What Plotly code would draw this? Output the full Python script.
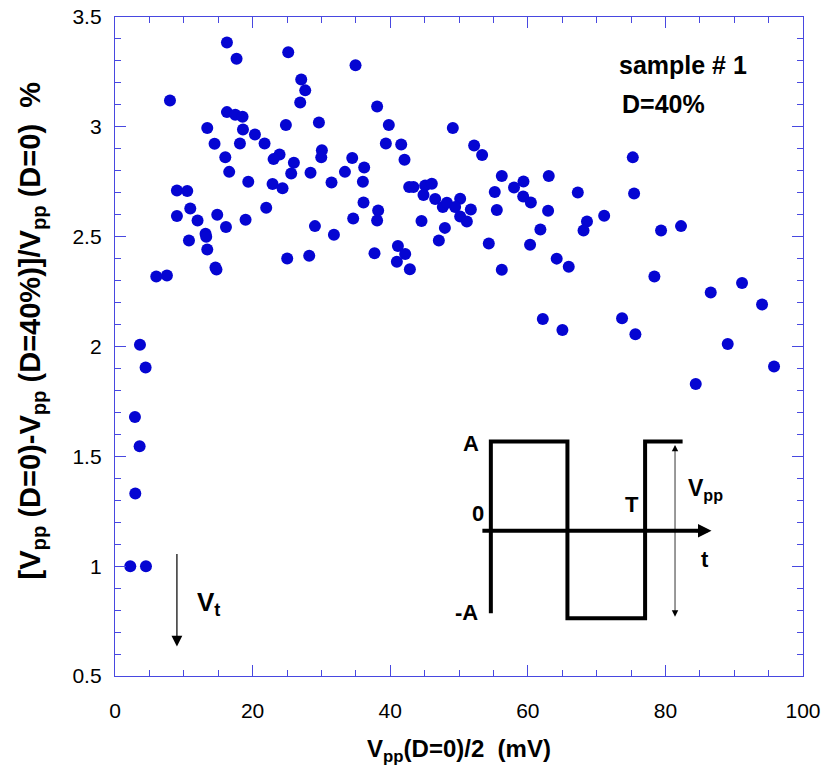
import plotly.graph_objects as go

# ---- data ----
x_vals = [
    16.27, 17.67, 7.99, 25.18, 34.96, 27.07, 27.65, 26.92, 16.27, 17.48, 18.54,
    13.41, 18.6, 20.34, 24.84, 29.64, 38.1, 39.8, 14.47, 18.16, 21.74, 39.37,
    41.6, 30.07, 29.98, 23.92, 23.05, 16.03, 26.0, 34.48, 42.08, 36.22, 16.6,
    25.61, 28.42, 33.42, 19.37, 22.9, 24.35, 31.47, 36.03, 9.0, 10.5, 42.76,
    43.38, 45.08, 46.05, 44.84, 46.54, 47.65, 48.24, 47.95, 47.07, 44.55,
    36.12, 38.25, 38.1, 34.62, 21.98, 10.94, 9.0, 12.0, 14.86, 18.98, 13.16,
    13.26, 16.13, 29.06, 31.82, 10.75, 13.41, 14.6, 14.75, 25.03, 28.23,
    37.72, 41.12, 42.18, 40.97, 42.86, 6.0, 7.55, 3.63,
    49.1, 52.2, 53.36, 75.26, 75.45, 56.22, 63.05, 59.37, 58.0, 55.2, 67.27,
    59.33, 60.44, 50.17, 51.72, 55.5, 62.95, 49.44, 50.17, 51.14, 68.6, 68.1,
    71.1, 61.83, 54.33, 60.33, 64.2, 65.95, 56.22, 79.37, 82.27, 78.4, 86.59,
    91.14, 94.05, 62.18, 65.03, 73.7, 75.64, 89.06, 95.79, 84.41,
    4.45, 2.9, 3.58, 2.95, 2.22, 4.5,
]
y_vals = [
    3.384, 3.31, 3.12, 3.34, 3.28, 3.215, 3.166, 3.111, 3.067, 3.055, 3.046,
    2.995, 2.988, 2.965, 3.008, 3.02, 3.093, 3.008, 2.923, 2.924, 2.924, 2.924,
    2.92, 2.893, 2.861, 2.874, 2.853, 2.862, 2.836, 2.858, 2.85, 2.815, 2.795,
    2.788, 2.791, 2.795, 2.75, 2.74, 2.72, 2.747, 2.75, 2.71, 2.708, 2.726,
    2.726, 2.733, 2.741, 2.69, 2.671, 2.635, 2.654, 2.54, 2.483, 2.571,
    2.656, 2.619, 2.574, 2.583, 2.632, 2.628, 2.594, 2.574, 2.6, 2.577, 2.513,
    2.5, 2.544, 2.548, 2.509, 2.483, 2.442, 2.36, 2.35, 2.401, 2.413,
    2.425, 2.457, 2.421, 2.386, 2.352, 2.319, 2.323, 2.008,
    2.995, 2.915, 2.872, 2.861, 2.697, 2.776, 2.776, 2.751, 2.724, 2.703, 2.701,
    2.683, 2.656, 2.673, 2.624, 2.621, 2.618, 2.635, 2.592, 2.569, 2.569, 2.528,
    2.595, 2.533, 2.469, 2.463, 2.4, 2.363, 2.349, 2.528, 2.548, 2.319, 2.246,
    2.289, 2.191, 2.125, 2.075, 2.129, 2.056, 2.011, 1.909, 1.829,
    1.904, 1.679, 1.546, 1.331, 1.0, 1.0,
]

x_range = [0, 100]
y_range = [0.5, 3.5]
x_tick_vals = [0, 20, 40, 60, 80, 100]
y_tick_vals = [0.5, 1, 1.5, 2, 2.5, 3, 3.5]
y_tick_text = ["0.5", "1", "1.5", "2", "2.5", "3", "3.5"]

# inset (square wave sketch), in main-axis data units
wave_t = [54.63, 54.63, 65.76, 65.76, 77.05, 77.05, 82.5]
wave_v = [0.786, 1.567, 1.567, 0.763, 0.763, 1.567, 1.567]
inset_axis_y = 1.161
inset_axis_x = [53.4, 86.7]
vpp_x = 81.4
vpp_y = [0.763, 1.552]
vt_x = 9.0
vt_y = [1.062, 0.634]

MARK = "#0505d2"
AXC = "#4848e0"
FONT = "Liberation Sans, Arial, sans-serif"

fig = go.Figure()
fig.add_trace(go.Scatter(
    x=x_vals, y=y_vals, mode="markers",
    marker=dict(size=12, color=MARK, line=dict(width=0)),
    showlegend=False, hoverinfo="skip",
))
# square wave
fig.add_trace(go.Scatter(
    x=wave_t, y=wave_v, mode="lines",
    line=dict(color="black", width=4),
    showlegend=False, hoverinfo="skip",
))
# time axis line
fig.add_trace(go.Scatter(
    x=[inset_axis_x[0], inset_axis_x[1] - 1.0], y=[inset_axis_y, inset_axis_y],
    mode="lines", line=dict(color="black", width=4),
    showlegend=False, hoverinfo="skip",
))

annotations = []
# time axis arrow head
annotations.append(dict(
    x=inset_axis_x[1], y=inset_axis_y, ax=inset_axis_x[1] - 2.5, ay=inset_axis_y,
    xref="x", yref="y", axref="x", ayref="y", text="", showarrow=True,
    arrowhead=2, arrowsize=0.9, arrowwidth=3, arrowcolor="black",
))
# Vpp double arrow
annotations.append(dict(
    x=vpp_x, y=vpp_y[1], ax=vpp_x, ay=vpp_y[0],
    xref="x", yref="y", axref="x", ayref="y", text="", showarrow=True,
    arrowhead=2, startarrowhead=2, arrowside="end+start",
    arrowsize=1.6, arrowwidth=0.8, arrowcolor="black",
))
# Vt arrow
annotations.append(dict(
    x=vt_x, y=vt_y[1], ax=vt_x, ay=vt_y[0],
    xref="x", yref="y", axref="x", ayref="y", text="", showarrow=True,
    arrowhead=2, arrowsize=1.8, arrowwidth=1.2, arrowcolor="black",
))

def txt(x, y, s, size=20, xanchor="center"):
    annotations.append(dict(
        x=x, y=y, xref="x", yref="y", text=s, showarrow=False,
        font=dict(family=FONT, size=size, color="black"),
        xanchor=xanchor, yanchor="middle",
    ))

txt(51.72, 1.56, "<b>A</b>", size=22)
txt(52.83, 1.24, "<b>0</b>", size=22)
txt(51.04, 0.79, "<b>-A</b>", size=22)
txt(75.11, 1.28, "<b>T</b>", size=22)
txt(83.0, 1.35, "<b>V<sub>pp</sub></b>", size=23, xanchor="left")
txt(85.76, 1.03, "<b>t</b>", size=22)
txt(11.6, 0.83, "<b>V<sub>t</sub></b>", size=26, xanchor="left")
txt(82.5, 3.283, "<b>sample # 1</b>", size=25)
txt(79.7, 3.105, "<b>D=40%</b>", size=25)

# y-axis title as a rotated annotation (placed slightly above centre, as in the source)
annotations.append(dict(
    x=-0.121, y=0.524, xref="paper", yref="paper", textangle=-90,
    text="<b>[V<sub>pp</sub> (D=0)-V<sub>pp</sub> (D=40%)]/V<sub>pp</sub> (D=0)  %</b>",
    showarrow=False, xanchor="center", yanchor="middle",
    font=dict(family=FONT, size=29, color="black"),
))

axis_common = dict(
    showline=True, linecolor=AXC, linewidth=1.3, mirror="allticks",
    ticks="inside", tickcolor=AXC, tickwidth=1.3, ticklen=11,
    showgrid=False, zeroline=False, automargin=False,
    tickfont=dict(family=FONT, size=21, color="black"),
)

fig.update_layout(
    width=826, height=778,
    margin=dict(l=115, r=23, t=17, b=102),
    paper_bgcolor="white", plot_bgcolor="white",
    annotations=annotations,
    xaxis=dict(
        range=x_range, tickvals=x_tick_vals, ticklabelstandoff=16,
        minor=dict(dtick=5, ticks="inside", ticklen=6, tickcolor=AXC, tickwidth=1),
        title=dict(text="<b>V<sub>pp</sub>(D=0)/2  (mV)</b>",
                   font=dict(family=FONT, size=24, color="black"), standoff=18),
        **axis_common,
    ),
    yaxis=dict(
        range=y_range, tickvals=y_tick_vals, ticktext=y_tick_text, ticklabelstandoff=8,
        minor=dict(dtick=0.1, ticks="inside", ticklen=6, tickcolor=AXC, tickwidth=1),
        **axis_common,
    ),
)

fig.write_html(
    "out.html",
    config={"displayModeBar": False},
    post_script="document.body.style.margin='0px';document.body.style.overflow='hidden';",
)
